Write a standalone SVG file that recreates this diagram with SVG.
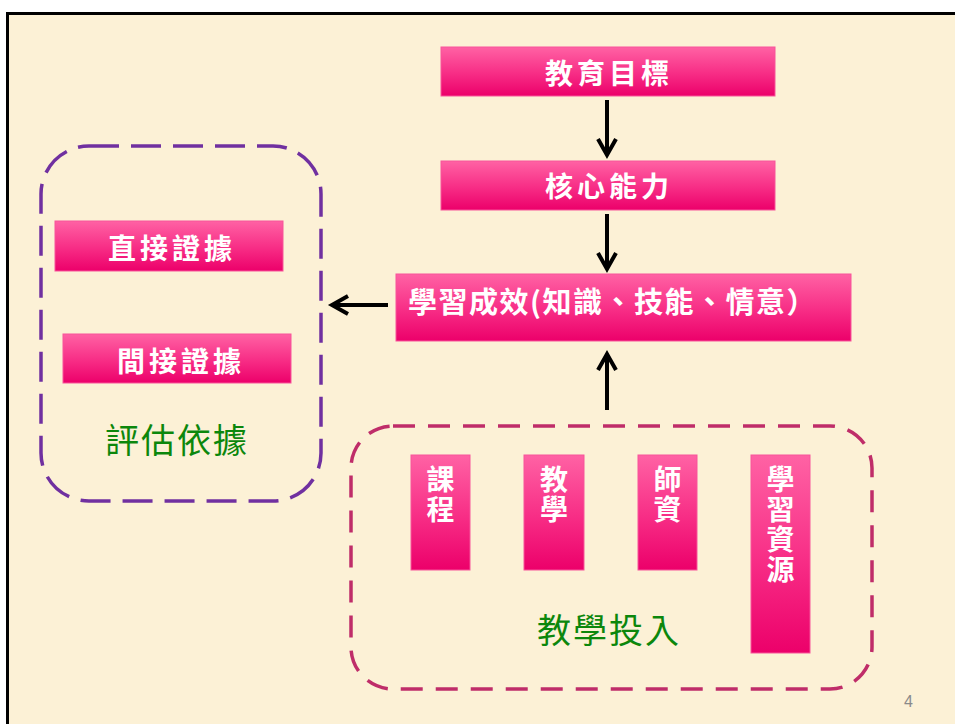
<svg xmlns="http://www.w3.org/2000/svg" width="955" height="724" viewBox="0 0 955 724">
<defs>
<linearGradient id="pink" x1="0" y1="0" x2="0" y2="1">
<stop offset="0" stop-color="#FF62A4"/>
<stop offset="0.55" stop-color="#F72C85"/>
<stop offset="1" stop-color="#EC006A"/>
</linearGradient>
<marker id="arr" markerUnits="userSpaceOnUse" viewBox="-20 -12 22 24" markerWidth="22" markerHeight="24" refX="0" refY="0" orient="auto" overflow="visible">
<path d="M-16,-9 L0,0 L-16,9" fill="none" stroke="#000" stroke-width="4"/>
</marker>
<style>
.box{fill:url(#pink);stroke:#F7559A;stroke-width:1}
.bt{font-family:"Noto Sans CJK TC","Noto Sans CJK SC",sans-serif;font-weight:bold;font-size:28px;fill:#fff;letter-spacing:4px}
.vt{font-family:"Noto Sans CJK TC","Noto Sans CJK SC",sans-serif;font-weight:bold;font-size:28px;fill:#fff;writing-mode:vertical-rl;letter-spacing:2px}
.gt{font-family:"Noto Sans CJK TC","Noto Sans CJK SC",sans-serif;font-size:34px;fill:#0C870C;letter-spacing:2px}
.con{stroke:#000;stroke-width:4;fill:none;marker-end:url(#arr)}
</style>
</defs>
<rect x="0" y="0" width="955" height="724" fill="#fff"/>
<rect x="6" y="12" width="949" height="712" fill="#000"/>
<rect x="9" y="15" width="946" height="709" fill="#FCF1D6"/>

<g id="connectors">
<line class="con" x1="607" y1="100" x2="607" y2="155"/>
<line class="con" x1="607" y1="214" x2="607" y2="269"/>
<line class="con" x1="388" y1="305" x2="332" y2="305"/>
<line class="con" x1="607" y1="410" x2="607" y2="354"/>
</g>

<g id="group-eval">
<rect x="41" y="146" width="280" height="355" rx="48" fill="none" stroke="#7030A0" stroke-width="3.5" stroke-dasharray="30 12"/>
<text class="gt" x="105" y="453">評估依據</text>
</g>

<g id="group-input">
<rect x="351" y="426" width="521" height="263" rx="42" fill="none" stroke="#BF2D69" stroke-width="3.5" stroke-dasharray="22 13"/>
<text class="gt" x="537" y="643">教學投入</text>
</g>

<g id="node-goal">
<rect class="box" x="441" y="47" width="334" height="49"/>
<text class="bt" x="545" y="84">教育目標</text>
</g>

<g id="node-core">
<rect class="box" x="441" y="161" width="334" height="49"/>
<text class="bt" x="545" y="197">核心能力</text>
</g>

<g id="node-outcome">
<rect class="box" x="396" y="274" width="455" height="67"/>
<text class="bt" x="408" y="313" style="letter-spacing:1.5px;font-size:29px">學習成效(知識、技能、情意）</text>
</g>

<g id="node-direct">
<rect class="box" x="55" y="221" width="228" height="50"/>
<text class="bt" x="108" y="259">直接證據</text>
</g>

<g id="node-indirect">
<rect class="box" x="63" y="334" width="228" height="49"/>
<text class="bt" x="117" y="372">間接證據</text>
</g>

<g id="node-curriculum">
<rect class="box" x="411" y="455" width="59" height="115"/>
<text class="vt" x="440.5" y="465">課程</text>
</g>

<g id="node-teaching">
<rect class="box" x="524" y="455" width="60" height="115"/>
<text class="vt" x="554" y="465">教學</text>
</g>

<g id="node-faculty">
<rect class="box" x="638" y="455" width="59" height="115"/>
<text class="vt" x="667.5" y="465">師資</text>
</g>

<g id="node-resources">
<rect class="box" x="751" y="455" width="59" height="198"/>
<text class="vt" x="780.5" y="465">學習資源</text>
</g>

<text x="904" y="707" font-family="Liberation Sans, Arial, sans-serif" font-size="16" fill="#8A8A8A">4</text>
</svg>
